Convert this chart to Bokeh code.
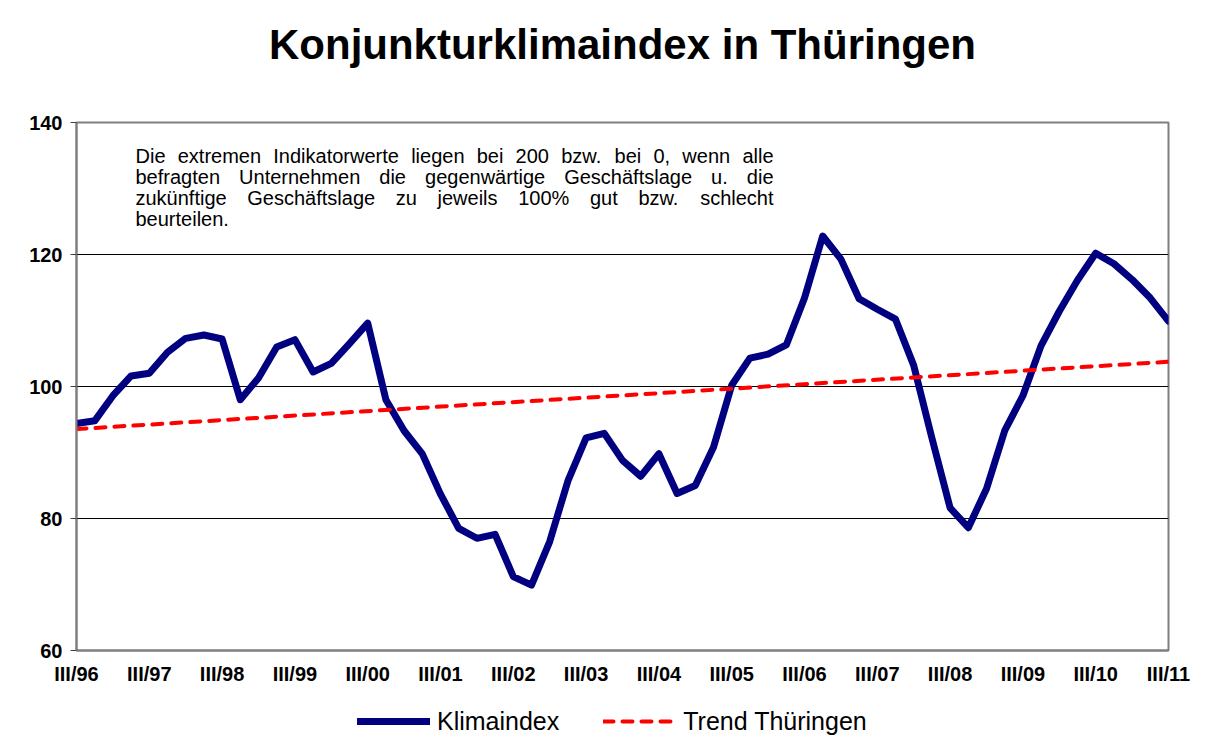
from bokeh.plotting import figure
from bokeh.layouts import column
from bokeh.models import Range1d, FixedTicker, Legend, LegendItem, Label
from bokeh.embed import file_html
from bokeh.resources import INLINE

# ---------------- data ----------------
roman = ["I", "II", "III", "IV"]
quarters = []
for year in range(1996, 2012):
    for q in range(4):
        if (year == 1996 and q < 2) or (year == 2011 and q > 2):
            continue
        quarters.append(f"{roman[q]}/{year % 100:02d}")

klimaindex = [
    94.4, 94.8, 98.6, 101.6, 102.0, 105.2, 107.3, 107.8, 107.2, 98.0,
    101.3, 106.0, 107.1, 102.2, 103.5, 106.5, 109.6, 98.0, 93.3, 89.8,
    83.7, 78.5, 77.0, 77.6, 71.2, 69.9, 76.5, 85.7, 92.2, 92.9,
    88.8, 86.4, 89.8, 83.8, 85.0, 90.8, 100.2, 104.3, 104.9, 106.3,
    113.4, 122.8, 119.3, 113.3, 111.7, 110.2, 103.2, 92.2, 81.6, 78.6,
    84.5, 93.3, 98.6, 106.2, 111.4, 116.1, 120.2, 118.6, 116.2, 113.4,
    109.9,
]

# trend line values at first and last quarter
trend_values = [93.55, 103.75]

y_ticks = [60, 80, 100, 120, 140]
grid_ticks = [80, 100, 120]
label_step = 4

note_lines = [
    "Die extremen Indikatorwerte liegen bei 200 bzw. bei 0, wenn alle",
    "befragten Unternehmen die gegenwärtige Geschäftslage u. die",
    "zukünftige Geschäftslage zu jeweils 100% gut bzw. schlecht",
    "beurteilen.",
]

title_text = "Konjunkturklimaindex in Thüringen"
series_names = ["Klimaindex", "Trend Thüringen"]

# ---------------- layout ----------------
FONT = "Liberation Sans"
W, H = 1191, 736
FL, FR, FT, FB = 76, 1168, 122, 650      # frame edges in canvas px
LEG_H = 30                                # height of the legend strip
x = list(range(len(quarters)))
last = len(quarters) - 1
Y0, Y1 = 60, 140

KLIMA_STYLE = dict(line_color="#000080", line_width=7, line_join="round", line_cap="round")
TREND_STYLE = dict(line_color="#FF0000", line_width=4, line_dash="10 9", line_cap="round")


def px_to_x(px):
    return (px - FL) / (FR - FL) * last


def py_to_y(py):
    return Y1 - (py - FT) / (FB - FT) * (Y1 - Y0)


# Arial / Liberation Sans advance widths (1/1000 em), for justifying the note
ARIAL = {
    " ": 278, "a": 556, "b": 556, "c": 500, "d": 556, "e": 556, "f": 278,
    "g": 556, "h": 556, "i": 222, "j": 222, "k": 500, "l": 222, "m": 833,
    "n": 556, "o": 556, "p": 556, "q": 556, "r": 333, "s": 500, "t": 278,
    "u": 556, "v": 500, "w": 722, "x": 500, "y": 500, "z": 500, "ä": 556,
    "ü": 556, "D": 722, "G": 778, "I": 278, "U": 722, ".": 278, ",": 278,
    "%": 889,
}


def text_w(s, size):
    return sum(ARIAL.get(c, 556) for c in s) / 1000 * size


p = figure(
    width=W, height=H - LEG_H,
    frame_width=FR - FL, frame_height=FB - FT,
    output_backend="svg", toolbar_location=None,
    x_range=Range1d(0, last), y_range=Range1d(Y0, Y1),
    min_border_left=FL, min_border_right=W - FR,
    min_border_top=FT, min_border_bottom=H - LEG_H - FB,
    title=title_text,
)
p.background_fill_color = "white"
p.border_fill_color = "white"
p.outline_line_color = "#7f7f7f"
p.outline_line_width = 2

p.title.align = "center"
p.title.vertical_align = "bottom"
p.title.text_font = FONT
p.title.text_font_size = "42px"
p.title.text_font_style = "bold"
p.title.text_color = "black"
p.title.standoff = 10
p.title.padding = (0, 0, 0, 50)

# x axis
p.xaxis.ticker = FixedTicker(ticks=list(range(0, len(quarters), label_step)))
p.xaxis.major_label_overrides = {i: quarters[i] for i in range(0, len(quarters), label_step)}
p.xaxis.major_label_text_font = FONT
p.xaxis.major_label_text_font_size = "20px"
p.xaxis.major_label_text_font_style = "bold"
p.xaxis.major_label_text_color = "black"
p.xaxis.major_label_standoff = 6
p.xaxis.major_tick_line_color = None
p.xaxis.minor_tick_line_color = None
p.xaxis.axis_line_color = "#7f7f7f"
p.xaxis.axis_line_width = 2

# y axis
p.yaxis.ticker = FixedTicker(ticks=y_ticks)
p.yaxis.major_label_text_font = FONT
p.yaxis.major_label_text_font_size = "20px"
p.yaxis.major_label_text_font_style = "bold"
p.yaxis.major_label_text_color = "black"
p.yaxis.major_label_standoff = 8
p.yaxis.major_tick_out = 6
p.yaxis.major_tick_in = 0
p.yaxis.major_tick_line_color = "#404040"
p.yaxis.minor_tick_line_color = None
p.yaxis.axis_line_color = "#7f7f7f"
p.yaxis.axis_line_width = 2

p.xgrid.grid_line_color = None
p.ygrid.ticker = FixedTicker(ticks=grid_ticks)
p.ygrid.grid_line_color = "black"
p.ygrid.grid_line_width = 1

p.line(x, klimaindex, **KLIMA_STYLE)
p.line([0, last], trend_values, **TREND_STYLE)

# note text, justified like the original text box
NOTE_SIZE = 20
NOTE_LEFT, NOTE_RIGHT = 135, 773
note_baselines = [155, 176.2, 197.4, 218.6]
for li, (txt, by) in enumerate(zip(note_lines, note_baselines)):
    yy = py_to_y(by)
    if li < len(note_lines) - 1:
        words = txt.split(" ")
        total = sum(text_w(w, NOTE_SIZE) for w in words)
        gap = (NOTE_RIGHT - NOTE_LEFT - total) / (len(words) - 1)
        cx = NOTE_LEFT
        for w in words:
            p.add_layout(Label(x=px_to_x(cx), y=yy, text=w, text_font=FONT,
                               text_font_size=f"{NOTE_SIZE}px", text_color="black",
                               text_baseline="alphabetic", text_align="left"))
            cx += text_w(w, NOTE_SIZE) + gap
    else:
        p.add_layout(Label(x=px_to_x(NOTE_LEFT), y=yy, text=txt, text_font=FONT,
                           text_font_size=f"{NOTE_SIZE}px", text_color="black",
                           text_baseline="alphabetic", text_align="left"))

# ---------------- legend strip under the chart ----------------
# same series drawn again in the strip, but outside its visible y range,
# so only the legend entries show
leg = figure(
    width=W, height=LEG_H, output_backend="svg", toolbar_location=None,
    x_axis_type=None, y_axis_type=None,
    x_range=Range1d(0, last), y_range=Range1d(Y1 + 100, Y1 + 200),
    min_border_left=0, min_border_right=0, min_border_top=0, min_border_bottom=0,
)
leg.outline_line_color = None
leg.background_fill_color = "white"
leg.border_fill_color = "white"
lr_klima = leg.line(x, klimaindex, **KLIMA_STYLE)
lr_trend = leg.line([0, last], trend_values, **TREND_STYLE)

legend = Legend(
    items=[LegendItem(label=series_names[0], renderers=[lr_klima]),
           LegendItem(label=series_names[1], renderers=[lr_trend])],
    orientation="horizontal", location=(357 - FL, 0),
    padding=0, margin=0, spacing=44,
    glyph_width=73, glyph_height=LEG_H, label_height=LEG_H, label_standoff=7,
    label_text_font=FONT, label_text_font_size="25px", label_text_color="black",
    border_line_alpha=0, background_fill_alpha=0,
)
leg.add_layout(legend)

layout = column(p, leg, spacing=0)
open("out.html", "w").write(file_html(layout, INLINE))
